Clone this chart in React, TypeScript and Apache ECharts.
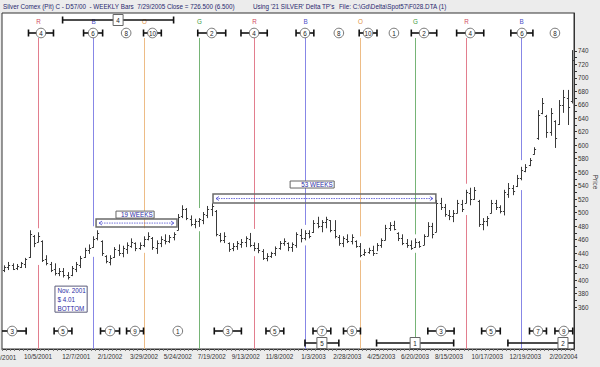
import React, { useEffect, useRef } from 'react';
import * as echarts from 'echarts';

const FONT = '"Liberation Sans", Arial, sans-serif';
const FS = 6.3;

const TITLE_MAIN = 'Silver Comex (Pit) C - D57/00  - WEEKLY Bars  7/29/2005 Close = 726.500 (6.500)';
const TITLE_USING = "Using '21 SILVER' Delta TP's";
const TITLE_FILE = 'File: C:\\Gd\\Delta\\Spot57\\F028.DTA (1)';
const AXIS_NAME = 'Price';

// Weekly categories (Fridays) starting 8/10/2001
const START_Y = 2001, START_M = 8, START_D = 10;
const WEEK_COUNT = 135;
const DATES: string[] = [];
{
  const d0 = Date.UTC(START_Y, START_M - 1, START_D);
  for (let i = 0; i < WEEK_COUNT; i++) {
    const d = new Date(d0 + i * 7 * 86400000);
    DATES.push(`${d.getUTCMonth() + 1}/${d.getUTCDate()}/${d.getUTCFullYear()}`);
  }
}

// First label is drawn at the edge (partly cut off by the window), the rest by the axis
const EDGE_LABEL = '8/10/2001';
const X_LABELS = [
  '10/5/2001', '12/7/2001', '2/1/2002', '3/29/2002', '5/24/2002', '7/19/2002',
  '9/13/2002', '11/8/2002', '1/3/2003', '2/28/2003', '4/25/2003', '6/20/2003', '8/15/2003',
  '10/17/2003', '12/19/2003', '2/20/2004',
];

const HIGH = [
  422, 427, 425, 424, 427, 433, 474, 467, 471, 459,
  437, 427, 425, 418, 418, 412, 421, 427, 436, 448,
  453, 465, 474, 459, 437, 437, 449, 453, 451, 456,
  462, 456, 456, 465, 471, 464, 459, 465, 468, 467,
  471, 498, 511, 507, 496, 491, 492, 501, 510, 514,
  504, 470, 471, 456, 455, 458, 461, 465, 470, 456,
  455, 446, 440, 442, 450, 458, 462, 456, 456, 471,
  476, 474, 474, 489, 494, 489, 494, 489, 489, 467,
  465, 468, 468, 459, 455, 446, 448, 451, 455, 462,
  482, 486, 488, 471, 468, 461, 459, 462, 458, 468,
  486, 485, 519, 522, 513, 504, 504, 519, 519, 534,
  537, 538, 519, 492, 495, 519, 519, 511, 534, 544,
  541, 556, 568, 572, 581, 597, 652, 670, 645, 655,
  637, 667, 682, 682, 741,
];
const LOW = [
  412, 415, 415, 415, 418, 418, 433, 449, 456, 427,
  422, 412, 407, 406, 404, 401, 406, 412, 418, 433,
  439, 448, 459, 436, 425, 422, 433, 436, 434, 439,
  448, 443, 445, 449, 459, 445, 439, 449, 453, 455,
  459, 474, 492, 489, 480, 477, 479, 483, 492, 495,
  465, 456, 455, 442, 443, 445, 448, 449, 449, 443,
  440, 430, 428, 433, 436, 445, 451, 443, 442, 448,
  456, 459, 462, 470, 477, 471, 477, 471, 462, 451,
  449, 455, 453, 448, 434, 436, 439, 436, 443, 448,
  459, 473, 474, 458, 452, 448, 445, 448, 448, 452,
  465, 462, 471, 504, 494, 489, 486, 499, 501, 514,
  511, 519, 479, 474, 480, 499, 504, 499, 496, 522,
  526, 538, 548, 560, 569, 586, 608, 646, 611, 614,
  596, 630, 648, 630, 662,
];
const OPEN = [
  415, 419, 422, 418, 420, 424, 434, 465, 457, 458,
  432, 424, 416, 411, 413, 408, 407, 416, 422, 434,
  444, 449, 462, 458, 436, 427, 434, 445, 440, 446,
  451, 455, 447, 452, 461, 463, 448, 455, 460, 458,
  464, 475, 495, 505, 491, 484, 487, 489, 497, 505,
  503, 467, 460, 455, 447, 450, 454, 457, 461, 452,
  447, 443, 433, 436, 440, 447, 455, 455, 449, 452,
  467, 462, 470, 471, 485, 480, 486, 489, 475, 464,
  455, 461, 458, 458, 450, 439, 442, 445, 441, 452,
  460, 477, 482, 470, 462, 455, 452, 449, 456, 452,
  466, 480, 472, 514, 508, 497, 495, 500, 513, 515,
  529, 521, 518, 483, 488, 500, 514, 508, 503, 528,
  537, 539, 551, 562, 570, 587, 610, 648, 644, 620,
  636, 632, 659, 670, 665,
];
const CLOSE = [
  419, 423, 417, 421, 425, 431, 468, 455, 466, 430,
  425, 415, 410, 414, 407, 405, 418, 424, 433, 445,
  448, 461, 470, 440, 428, 433, 446, 440, 447, 452,
  456, 447, 452, 461, 466, 449, 455, 461, 458, 464,
  469, 494, 506, 492, 484, 487, 490, 498, 505, 510,
  468, 460, 466, 446, 451, 455, 457, 462, 452, 447,
  444, 433, 436, 440, 447, 455, 458, 449, 453, 468,
  462, 470, 466, 485, 480, 486, 490, 475, 465, 455,
  462, 458, 464, 450, 438, 442, 445, 440, 452, 459,
  478, 482, 476, 462, 455, 452, 448, 457, 451, 465,
  481, 468, 515, 508, 498, 495, 500, 514, 506, 530,
  520, 533, 483, 488, 492, 515, 508, 503, 530, 537,
  532, 552, 563, 568, 578, 594, 645, 662, 620, 648,
  610, 660, 672, 656, 726.5,
];

const Y_LABELS = [360, 380, 400, 420, 440, 460, 480, 500, 520, 540, 560, 580, 600, 620, 640, 660, 680, 700, 720, 740];
const Y_TICKS = [
  360, 370, 380, 390, 400, 410, 420, 430, 440, 450, 460, 470, 480, 490, 500, 510, 520, 530, 540, 550,
  560, 570, 580, 590, 600, 610, 620, 630, 640, 650, 660, 670, 680, 690, 700, 710, 720, 730, 740,
];

// Cycle turning-point lines (bar index, code)
const CYCLE_IDX = [8, 21, 33, 46, 59, 71, 84, 97, 109, 122];
const CYCLE_CODE = ['R', 'B', 'O', 'G', 'R', 'B', 'O', 'G', 'R', 'B'];
const LINE_COLOR: Record<string, string> = { R: '#E27E8E', B: '#8787E6', O: '#EDBC86', G: '#76B476' };
const LETTER_COLOR: Record<string, string> = { R: '#D24C5E', B: '#4E4EC8', O: '#E0913E', G: '#3D9A3D' };

// Top row markers: center index, half width in bars, label
const TOP_POS = [8.7, 21.0, 28.8, 35.0, 49.0, 59.0, 71.0, 79.0, 85.9, 92.0, 99.1, 110.0, 122.2, 130.0];
const TOP_HALF = [2.95, 2.25, 0, 2.1, 3.3, 3.1, 2.1, 0, 2.1, 0, 3.0, 3.2, 2.6, 0];
const TOP_NUM = ['4', '6', '8', '10', '2', '4', '6', '8', '10', '1', '2', '4', '6', '8'];

// Bottom row markers
const BOT_POS = [1.9, 13.9, 25.0, 30.9, 41.0, 52.8, 63.9, 75.0, 82.1, 103.1, 114.9, 126.0, 132.1];
const BOT_HALF = [3.3, 2.1, 2.25, 2.0, 0, 3.2, 2.1, 2.1, 2.0, 3.1, 2.2, 2.0, 2.1];
const BOT_NUM = ['3', '5', '7', '9', '1', '3', '5', '7', '9', '3', '5', '7', '9'];

// Boxed (major) markers
const BOX_POS = [26.9, 75.0, 97.0, 131.9];
const BOX_HALF = [13.1, 4.0, 9.1, 13.0];
const BOX_NUM = ['4', '5', '1', '2'];
const BOX_ROW = ['top', 'bottom', 'bottom', 'bottom'];

// Week-count spans
const SPAN_FROM = [21.7, 49.3];
const SPAN_TO = [40.8, 101.9];
const SPAN_TOP = [490.6, 527.7];
const SPAN_BOTTOM = [478.7, 514.3];
const SPAN_LABEL = ['19 WEEKS', '53 WEEKS'];
const SPAN_LABEL_FROM = [26.4, 67.5];
const SPAN_LABEL_TO = [35.4, 77.9];
const SPAN_LABEL_TOP = [502.4, 547.0];
const SPAN_LABEL_BOTTOM = [492.0, 536.6];

// Bottom note
const NOTE_LINES = ['Nov. 2001', '$ 4.01', 'BOTTOM'];
const NOTE_FROM = 12.0;
const NOTE_TO = 19.6;
const NOTE_TOP = 391.2;
const NOTE_BOTTOM = 352.6;

const TEXT_BLUE = '#2B2BA4';

function xAt(api: any, idx: number) {
  const a = api.coord([0, 500])[0];
  const b = api.coord([1, 500])[0];
  return a + idx * (b - a);
}
function stepOf(api: any) {
  return api.coord([1, 500])[0] - api.coord([0, 500])[0];
}

function hBar(x1: number, x2: number, y: number, cs: any): any[] {
  const lo = cs.x, hi = cs.x + cs.width;
  const l = Math.max(x1, lo), r = Math.min(x2, hi);
  const st = { stroke: '#111', lineWidth: 1.6 };
  const out: any[] = [{ type: 'line', shape: { x1: l, y1: y, x2: r, y2: y }, style: st }];
  if (x1 >= lo) out.push({ type: 'line', shape: { x1: x1, y1: y - 3.5, x2: x1, y2: y + 3.5 }, style: st });
  if (x2 <= hi) out.push({ type: 'line', shape: { x1: x2, y1: y - 3.5, x2: x2, y2: y + 3.5 }, style: st });
  return out;
}

function txt(text: string, x: number, y: number, fill: string, align = 'center') {
  return {
    type: 'text', x, y,
    style: { text, fill, fontSize: FS, fontFamily: FONT, align, verticalAlign: 'middle' },
  };
}

function circleMarkers(pos: number[], half: number[], num: string[], rowOffset: (cs: any) => number) {
  return (params: any, api: any) => {
    const k = params.dataIndex;
    const cs = params.coordSys;
    const step = stepOf(api);
    const x = xAt(api, pos[k]);
    const y = rowOffset(cs);
    const children: any[] = [];
    if (half[k] > 0) children.push(...hBar(x - half[k] * step, x + half[k] * step, y, cs));
    children.push({ type: 'circle', shape: { cx: x, cy: y, r: 4.8 }, style: { fill: '#fff', stroke: '#555', lineWidth: 0.8 } });
    children.push(txt(num[k], x, y + 0.3, '#222'));
    return { type: 'group', children };
  };
}

function buildOption(): any {
  const ohlcData = DATES.map((d, i) => [i, OPEN[i], CLOSE[i], LOW[i], HIGH[i]]);
  return {
    animation: false,
    backgroundColor: '#ECECEC',
    textStyle: { fontFamily: FONT },
    grid: {
      left: 2, right: 26, top: 13, bottom: 18, show: true,
      backgroundColor: '#fff', borderColor: '#333', borderWidth: 1,
    },
    graphic: [
      { type: 'text', x: 3, y: 6.5, style: { text: TITLE_MAIN, fill: '#28286E', fontSize: FS, fontFamily: FONT, verticalAlign: 'middle' } },
      { type: 'text', x: 253, y: 6.5, style: { text: TITLE_USING, fill: '#28286E', fontSize: FS, fontFamily: FONT, verticalAlign: 'middle' } },
      { type: 'text', x: 339, y: 6.5, style: { text: TITLE_FILE, fill: '#28286E', fontSize: FS, fontFamily: FONT, verticalAlign: 'middle' } },
      { type: 'text', x: 595, y: 182, rotation: -Math.PI / 2, style: { text: AXIS_NAME, fill: '#333', fontSize: FS, fontFamily: FONT, align: 'center', verticalAlign: 'middle' } },
    ],
    xAxis: {
      type: 'category',
      data: DATES,
      boundaryGap: true,
      axisLine: { show: true, lineStyle: { color: '#333' } },
      axisTick: { show: true, interval: 0, length: 2, lineStyle: { color: '#777' } },
      axisLabel: {
        interval: (i: number, v: string) => X_LABELS.indexOf(v) >= 0,
        fontSize: FS, color: '#333', margin: 4, fontFamily: FONT,
      },
      splitLine: { show: false },
    },
    yAxis: {
      type: 'value',
      position: 'right',
      min: 298,
      max: 796,
      axisLine: { show: true, lineStyle: { color: '#333' } },
      axisTick: { show: true, customValues: Y_TICKS, length: 3, lineStyle: { color: '#333' } },
      axisLabel: { customValues: Y_LABELS, fontSize: FS, color: '#333', margin: 4, fontFamily: FONT },
      splitLine: { show: false },
    },
    series: [
      {
        type: 'custom',
        name: 'cycles',
        z: 2,
        data: CYCLE_IDX.map((i) => [i, 500]),
        encode: { x: 0, y: 1 },
        renderItem: (params: any, api: any) => {
          const k = params.dataIndex;
          const idx = CYCLE_IDX[k];
          const code = CYCLE_CODE[k];
          const cs = params.coordSys;
          const x = Math.round(api.coord([idx, 500])[0]) + 0.5;
          let top = Infinity, bot = -Infinity;
          for (let j = idx - 1; j <= idx + 1; j++) {
            if (j < 0 || j >= HIGH.length) continue;
            top = Math.min(top, api.coord([j, HIGH[j]])[1]);
            bot = Math.max(bot, api.coord([j, LOW[j]])[1]);
          }
          const st = { stroke: LINE_COLOR[code], lineWidth: 1 };
          return {
            type: 'group',
            children: [
              { type: 'line', shape: { x1: x, y1: cs.y + 25, x2: x, y2: top - 4 }, style: st },
              { type: 'line', shape: { x1: x, y1: bot + 3, x2: x, y2: cs.y + cs.height }, style: st },
              txt(code, x, cs.y + 8.5, LETTER_COLOR[code]),
            ],
          };
        },
      },
      {
        type: 'custom',
        name: 'ohlc',
        z: 3,
        data: ohlcData,
        encode: { x: 0, y: [1, 2, 3, 4] },
        renderItem: (params: any, api: any) => {
          const i = api.value(0);
          const o = api.coord([i, api.value(1)]);
          const c = api.coord([i, api.value(2)]);
          const l = api.coord([i, api.value(3)]);
          const h = api.coord([i, api.value(4)]);
          const x = Math.round(h[0]) + 0.5;
          const st = { stroke: '#3A3A3A', lineWidth: 1 };
          return {
            type: 'group',
            children: [
              { type: 'line', shape: { x1: x, y1: h[1], x2: x, y2: l[1] }, style: st },
              { type: 'line', shape: { x1: x - 1.6, y1: Math.round(o[1]) + 0.5, x2: x, y2: Math.round(o[1]) + 0.5 }, style: st },
              { type: 'line', shape: { x1: x, y1: Math.round(c[1]) + 0.5, x2: x + 1.6, y2: Math.round(c[1]) + 0.5 }, style: st },
            ],
          };
        },
      },
      {
        type: 'custom',
        name: 'edgeLabel',
        z: 3,
        silent: true,
        data: [[DATES.indexOf(EDGE_LABEL), 500]],
        encode: { x: 0, y: 1 },
        renderItem: (params: any, api: any) => {
          const cs = params.coordSys;
          const x = api.coord([api.value(0), 500])[0];
          return {
            type: 'text', x: x - 2, y: cs.y + cs.height + 8,
            style: { text: EDGE_LABEL, fill: '#333', fontSize: FS, fontFamily: FONT, align: 'center', verticalAlign: 'middle' },
          };
        },
      },
      {
        type: 'custom',
        name: 'topMarkers',
        z: 5,
        data: TOP_POS.map((p) => [Math.round(p), 500]),
        encode: { x: 0, y: 1 },
        renderItem: circleMarkers(TOP_POS, TOP_HALF, TOP_NUM, (cs) => cs.y + 20),
      },
      {
        type: 'custom',
        name: 'bottomMarkers',
        z: 5,
        data: BOT_POS.map((p) => [Math.round(p), 500]),
        encode: { x: 0, y: 1 },
        renderItem: circleMarkers(BOT_POS, BOT_HALF, BOT_NUM, (cs) => cs.y + cs.height - 18),
      },
      {
        type: 'custom',
        name: 'boxMarkers',
        z: 6,
        data: BOX_POS.map((p) => [Math.round(p), 500]),
        encode: { x: 0, y: 1 },
        renderItem: (params: any, api: any) => {
          const k = params.dataIndex;
          const cs = params.coordSys;
          const step = stepOf(api);
          const x = xAt(api, BOX_POS[k]);
          const y = BOX_ROW[k] === 'top' ? cs.y + 7 : cs.y + cs.height - 6;
          const children: any[] = hBar(x - BOX_HALF[k] * step, x + BOX_HALF[k] * step, y, cs);
          children.push({ type: 'rect', shape: { x: x - 5, y: y - 5.5, width: 10, height: 11 }, style: { fill: '#fff', stroke: '#666', lineWidth: 1 } });
          children.push(txt(BOX_NUM[k], x, y + 0.3, '#222'));
          return { type: 'group', children };
        },
      },
      {
        type: 'custom',
        name: 'spans',
        z: 7,
        data: SPAN_FROM.map((f, i) => [Math.round(f), SPAN_TOP[i]]),
        encode: { x: 0, y: 1 },
        renderItem: (params: any, api: any) => {
          const k = params.dataIndex;
          const l = xAt(api, SPAN_FROM[k]);
          const r = xAt(api, SPAN_TO[k]);
          const t = api.coord([0, SPAN_TOP[k]])[1];
          const b = api.coord([0, SPAN_BOTTOM[k]])[1];
          const my = (t + b) / 2;
          const ll = xAt(api, SPAN_LABEL_FROM[k]);
          const lr = xAt(api, SPAN_LABEL_TO[k]);
          const lt = api.coord([0, SPAN_LABEL_TOP[k]])[1];
          const lb = api.coord([0, SPAN_LABEL_BOTTOM[k]])[1];
          const blue = '#4A4AD0';
          return {
            type: 'group',
            children: [
              { type: 'rect', shape: { x: l, y: t, width: r - l, height: b - t }, style: { fill: 'rgba(255,255,255,0)', stroke: '#6A6A6A', lineWidth: 1.5 } },
              { type: 'line', shape: { x1: l + 3, y1: my, x2: r - 3, y2: my }, style: { stroke: blue, lineWidth: 0.8, lineDash: [1.5, 1] } },
              { type: 'polyline', shape: { points: [[l + 6, my - 2], [l + 3, my], [l + 6, my + 2]] }, style: { stroke: blue, lineWidth: 0.8, fill: 'none' } },
              { type: 'polyline', shape: { points: [[r - 6, my - 2], [r - 3, my], [r - 6, my + 2]] }, style: { stroke: blue, lineWidth: 0.8, fill: 'none' } },
              { type: 'rect', shape: { x: ll, y: lt, width: lr - ll, height: lb - lt }, style: { fill: '#fff', stroke: '#666', lineWidth: 1 } },
              txt(SPAN_LABEL[k], lr - 1.5, (lt + lb) / 2 + 0.3, TEXT_BLUE, 'right'),
            ],
          };
        },
      },
      {
        type: 'custom',
        name: 'note',
        z: 7,
        data: [[Math.round(NOTE_FROM), NOTE_TOP]],
        encode: { x: 0, y: 1 },
        renderItem: (params: any, api: any) => {
          const l = xAt(api, NOTE_FROM);
          const r = xAt(api, NOTE_TO);
          const t = api.coord([0, NOTE_TOP])[1];
          const b = api.coord([0, NOTE_BOTTOM])[1];
          const lh = (b - t) / NOTE_LINES.length;
          const children: any[] = [
            { type: 'rect', shape: { x: l, y: t, width: r - l, height: b - t }, style: { fill: '#fff', stroke: '#5A5A7A', lineWidth: 1 } },
          ];
          NOTE_LINES.forEach((s, i) => children.push(txt(s, l + 2.5, t + lh * (i + 0.5) + 0.3, TEXT_BLUE, 'left')));
          return { type: 'group', children };
        },
      },
    ],
  };
}

export default function App() {
  const ref = useRef<HTMLDivElement>(null);
  useEffect(() => {
    document.body.style.margin = '0';
    const chart = echarts.init(ref.current as HTMLDivElement, null, { renderer: 'svg' });
    chart.setOption(buildOption());
    return () => chart.dispose();
  }, []);
  return <div ref={ref} style={{ width: 600, height: 367 }} />;
}
